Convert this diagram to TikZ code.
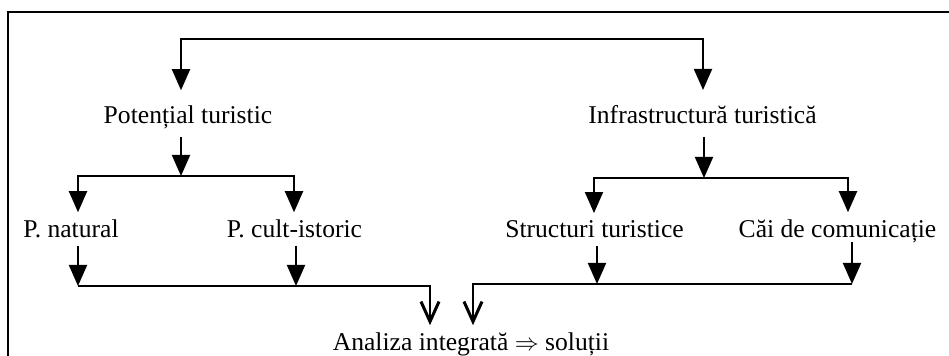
\documentclass[tikz,border=0pt]{standalone}
\usepackage{fontspec}
\setmainfont{Liberation Serif}
\usepackage{tikz}
\usetikzlibrary{arrows.meta}

\begin{document}
\begin{tikzpicture}[x=0.5pt, y=-0.5pt,
	txt/.style={anchor=base, inner sep=0pt, outer xsep=0pt, outer ysep=4pt, text depth=0pt, font=\fontsize{12.8}{15}\selectfont},
	arr/.style={line width=1pt, -{Triangle[length=10.5pt, width=9pt]}},
	arrtwo/.style={line width=1pt, {Triangle[length=10.5pt, width=9pt]}-{Triangle[length=10.5pt, width=9pt]}},
	varr/.style={line width=1pt, -{Straight Barb[length=10pt, width=9pt, line width=1.5pt]}}]

	\useasboundingbox (0,0) rectangle (949,356);

	% outer frame (runs off the page right and bottom)
	\draw[line width=1.1pt] (8,370) -- (8,12) -- (960,12);

	% text nodes
	\node[txt] (pot) at (188,124) {Potențial turistic};
	\node[txt] (inf) at (702.5,124) {Infrastructură turistică};
	\node[txt] (pnat) at (71,238) {P. natural};
	\node[txt] (pcult) at (294.5,238) {P. cult-istoric};
	\node[txt] (str) at (594.5,238) {Structuri turistice};
	\node[txt] (cai) at (837.5,238) {Căi de comunicație};
	\node[txt] (ana) at (471,351) {Analiza integrată $\Rightarrow$ soluții};

	% top bracket
	\coordinate (tl) at (181,39);
	\coordinate (tr) at (703,39);
	\draw[arrtwo, shorten <=4pt, shorten >=4pt] (tl |- pot.north) -- (tl) -- (tr) -- (tr |- inf.north);

	% left branch
	\coordinate (jp) at (181,176);
	\coordinate (jn) at (78,176);
	\coordinate (jc) at (294,176);
	\draw[arr, shorten <=2.5pt] (jp |- pot.south) -- (jp);
	\draw[arrtwo] (jn |- pnat.north) -- (jn) -- (jc) -- (jc |- pcult.north);

	% right branch
	\coordinate (ji) at (704,178);
	\coordinate (js) at (594,178);
	\coordinate (jk) at (848,178);
	\draw[arr, shorten <=2.5pt] (ji |- inf.south) -- (ji);
	\draw[arrtwo] (js |- str.north) -- (js) -- (jk) -- (jk |- cai.north);

	% merge left
	\coordinate (bn) at (78,286);
	\coordinate (bc) at (296,286);
	\coordinate (bl) at (430,286);
	\draw[arr] (bn |- pnat.south) -- (bn);
	\draw[arr] (bc |- pcult.south) -- (bc);
	\draw[varr] (bn) -- (bl) -- (bl |- ana.north);

	% merge right
	\coordinate (bs) at (597,284);
	\coordinate (bk) at (852,284);
	\coordinate (br) at (473,284);
	\draw[arr] (bs |- str.south) -- (bs);
	\draw[arr, shorten <=-2pt] (bk |- cai.south) -- (bk);
	\draw[varr] (bk) -- (br) -- (br |- ana.north);

\end{tikzpicture}
\end{document}
